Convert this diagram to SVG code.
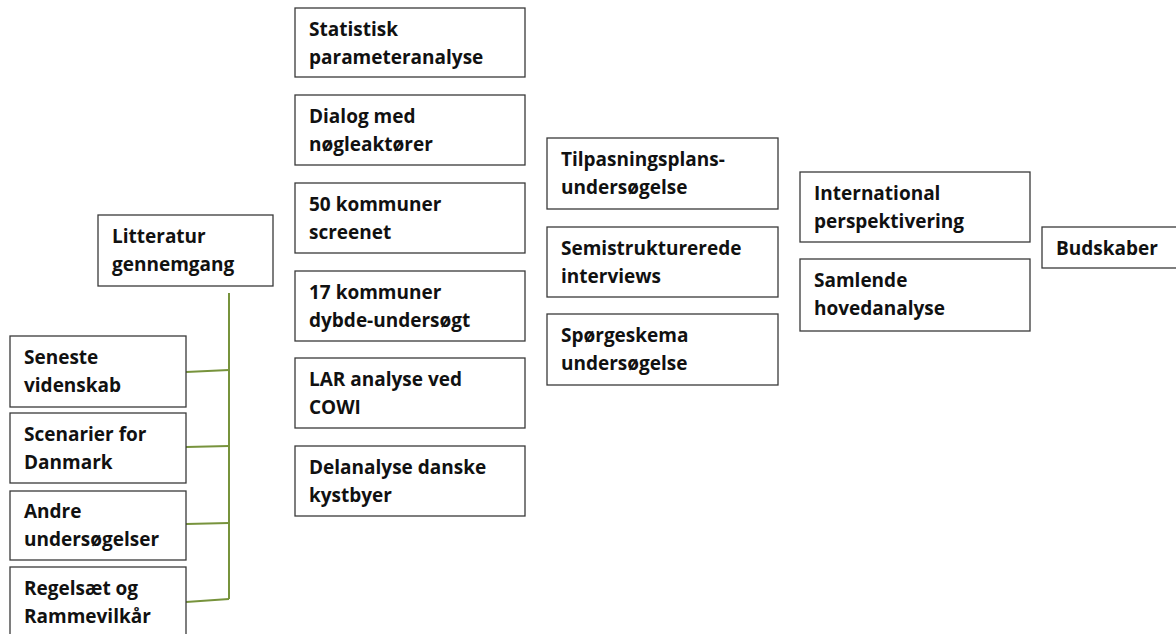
<svg xmlns="http://www.w3.org/2000/svg" width="1176" height="634" viewBox="0 0 1176 634">
  <style>
    .box { fill: #ffffff; stroke: #3a3a3a; stroke-width: 1.3; }
    .lbl { font-family: "Open Sans", "Noto Sans", sans-serif; font-weight: bold; font-size: 19px; fill: #111111; }
    .link { stroke: #77933c; stroke-width: 2; fill: none; }
  </style>
  <rect width="1176" height="634" fill="#ffffff"/>

  <!-- connectors: literature review bracket -->
  <g id="connectors">
    <path class="link" d="M229,293 V599"/>
    <path class="link" d="M186,372 L229,370"/>
    <path class="link" d="M186,447 L229,446"/>
    <path class="link" d="M186,524 L229,523"/>
    <path class="link" d="M186,602 L229,599"/>
  </g>

  <!-- literature column -->
  <g id="litteratur">
    <rect class="box" x="98" y="215" width="175" height="71"/>
    <text class="lbl" x="112" y="243">Litteratur</text>
    <text class="lbl" x="112" y="271">gennemgang</text>
  </g>
  <g id="seneste">
    <rect class="box" x="10" y="336" width="176" height="71"/>
    <text class="lbl" x="24" y="364">Seneste</text>
    <text class="lbl" x="24" y="392">videnskab</text>
  </g>
  <g id="scenarier">
    <rect class="box" x="10" y="413" width="176" height="70"/>
    <text class="lbl" x="24" y="441">Scenarier for</text>
    <text class="lbl" x="24" y="469">Danmark</text>
  </g>
  <g id="andre">
    <rect class="box" x="10" y="491" width="176" height="69"/>
    <text class="lbl" x="24" y="518">Andre</text>
    <text class="lbl" x="24" y="546">undersøgelser</text>
  </g>
  <g id="regelsaet">
    <rect class="box" x="10" y="567" width="176" height="80"/>
    <text class="lbl" x="24" y="595">Regelsæt og</text>
    <text class="lbl" x="24" y="623">Rammevilkår</text>
  </g>

  <!-- second column -->
  <g id="statistisk">
    <rect class="box" x="295" y="8" width="230" height="69"/>
    <text class="lbl" x="309" y="36">Statistisk</text>
    <text class="lbl" x="309" y="64">parameteranalyse</text>
  </g>
  <g id="dialog">
    <rect class="box" x="295" y="95" width="230" height="70"/>
    <text class="lbl" x="309" y="123">Dialog med</text>
    <text class="lbl" x="309" y="151">nøgleaktører</text>
  </g>
  <g id="kommuner50">
    <rect class="box" x="295" y="183" width="230" height="70"/>
    <text class="lbl" x="309" y="211">50 kommuner</text>
    <text class="lbl" x="309" y="239">screenet</text>
  </g>
  <g id="kommuner17">
    <rect class="box" x="295" y="271" width="230" height="70"/>
    <text class="lbl" x="309" y="299">17 kommuner</text>
    <text class="lbl" x="309" y="327">dybde-undersøgt</text>
  </g>
  <g id="lar">
    <rect class="box" x="295" y="358" width="230" height="70"/>
    <text class="lbl" x="309" y="386">LAR analyse ved</text>
    <text class="lbl" x="309" y="414">COWI</text>
  </g>
  <g id="delanalyse">
    <rect class="box" x="295" y="446" width="230" height="70"/>
    <text class="lbl" x="309" y="474">Delanalyse danske</text>
    <text class="lbl" x="309" y="502">kystbyer</text>
  </g>

  <!-- third column -->
  <g id="tilpasning">
    <rect class="box" x="547" y="138" width="231" height="71"/>
    <text class="lbl" x="561" y="166">Tilpasningsplans-</text>
    <text class="lbl" x="561" y="194">undersøgelse</text>
  </g>
  <g id="semistrukturerede">
    <rect class="box" x="547" y="227" width="231" height="70"/>
    <text class="lbl" x="561" y="255">Semistrukturerede</text>
    <text class="lbl" x="561" y="283">interviews</text>
  </g>
  <g id="spoergeskema">
    <rect class="box" x="547" y="314" width="231" height="71"/>
    <text class="lbl" x="561" y="342">Spørgeskema</text>
    <text class="lbl" x="561" y="370">undersøgelse</text>
  </g>

  <!-- fourth column -->
  <g id="international">
    <rect class="box" x="800" y="172" width="230" height="70"/>
    <text class="lbl" x="814" y="200">International</text>
    <text class="lbl" x="814" y="228">perspektivering</text>
  </g>
  <g id="samlende">
    <rect class="box" x="800" y="259" width="230" height="72"/>
    <text class="lbl" x="814" y="287">Samlende</text>
    <text class="lbl" x="814" y="315">hovedanalyse</text>
  </g>

  <!-- outcome -->
  <g id="budskaber">
    <rect class="box" x="1042" y="227" width="140" height="41"/>
    <text class="lbl" x="1056" y="255">Budskaber</text>
  </g>
</svg>
